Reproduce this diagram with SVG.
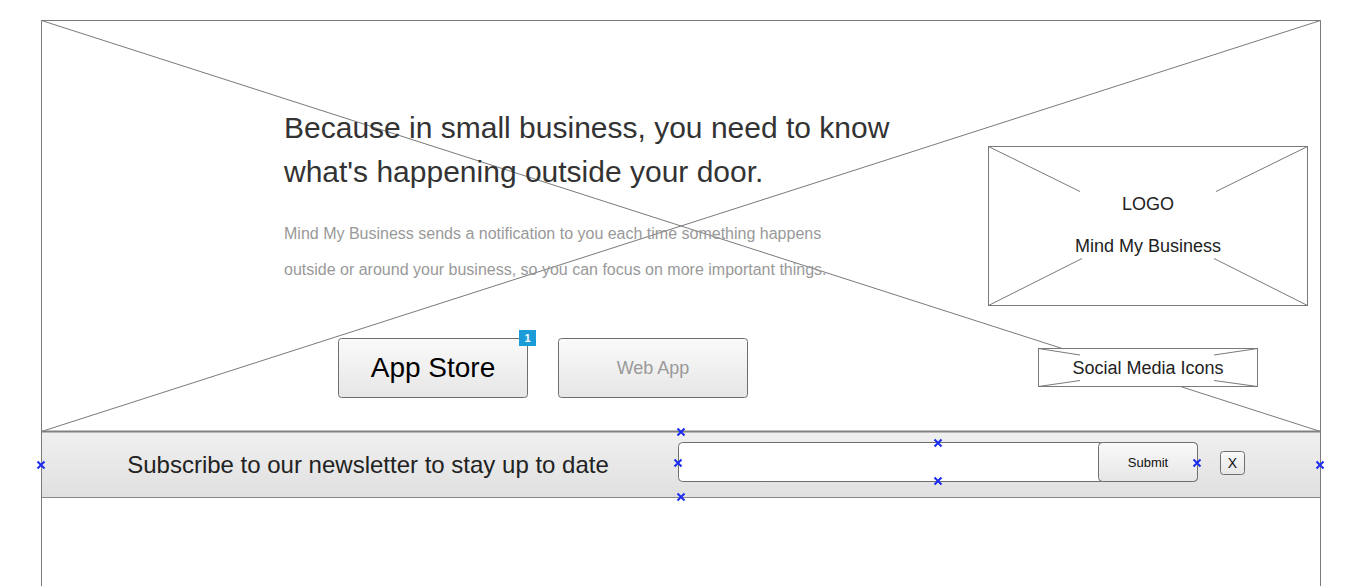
<svg xmlns="http://www.w3.org/2000/svg" width="1360" height="586" viewBox="0 0 1360 586">
<style>
.ln{stroke:#7a7a7a;stroke-width:1;fill:none}
.box{stroke:#7a7a7a;stroke-width:1;fill:#fff}
.btn{stroke:#6e6e6e;stroke-width:1;fill:url(#bg)}
.t{font-family:"Liberation Sans",Arial,sans-serif}
.mk{stroke:#1a2cf0;stroke-width:2;fill:none}
</style>
<defs>
<linearGradient id="bg" x1="0" y1="0" x2="0" y2="1">
<stop offset="0" stop-color="#fafafa"/>
<stop offset="1" stop-color="#e6e6e6"/>
</linearGradient>
<linearGradient id="bar" x1="0" y1="0" x2="0" y2="1">
<stop offset="0" stop-color="#f0f0f0"/>
<stop offset="1" stop-color="#e0e0e0"/>
</linearGradient>
<path id="x" d="M-3.5,-3.5L3.5,3.5M3.5,-3.5L-3.5,3.5"/>
</defs>
<rect width="1360" height="586" fill="#fff"/>
<g id="frame">
<path class="ln" d="M41.5,586V20.5H1320.5V586"/>
<path class="ln" d="M41.5,20.5L1320.5,431.5M1320.5,20.5L41.5,431.5"/>
</g>
<g id="headline">
<text class="t" x="284" y="138" font-size="30" fill="#333">Because in small business, you need to know</text>
<text class="t" x="284" y="182" font-size="30" fill="#333">what's happening outside your door.</text>
</g>
<g id="description">
<text class="t" x="284" y="239" font-size="16" fill="#999">Mind My Business sends a notification to you each time something happens</text>
<text class="t" x="284" y="275" font-size="16" fill="#999">outside or around your business, so you can focus on more important things.</text>
</g>
<g id="logo">
<rect class="box" x="988.5" y="146.5" width="319" height="159"/>
<path class="ln" d="M988.5,146.5L1080,191.5M1307.5,146.5L1216,191.5M988.5,305.5L1082,258.5M1307.5,305.5L1214,258.5"/>
<text class="t" x="1148" y="210" font-size="18" fill="#222" text-anchor="middle">LOGO</text>
<text class="t" x="1148" y="252" font-size="18" fill="#222" text-anchor="middle">Mind My Business</text>
</g>
<g id="social">
<rect class="box" x="1038.5" y="348.5" width="219" height="38"/>
<path class="ln" d="M1038.5,348.5L1080,355M1257.5,348.5L1214,355M1038.5,386.5L1080,380.5M1257.5,386.5L1214,380.5"/>
<text class="t" x="1148" y="374" font-size="18" fill="#222" text-anchor="middle">Social Media Icons</text>
</g>
<g id="appstore">
<rect class="btn" x="338.5" y="338.5" width="189" height="59" rx="3"/>
<text class="t" x="433" y="377" font-size="28" fill="#000" text-anchor="middle">App Store</text>
<rect x="519" y="330" width="17" height="16" fill="#1b9bd8"/>
<text class="t" x="527.5" y="342" font-size="11" font-weight="bold" fill="#fff" text-anchor="middle">1</text>
</g>
<g id="webapp">
<rect class="btn" x="558.5" y="338.5" width="189" height="59" rx="3"/>
<text class="t" x="653" y="374" font-size="18" fill="#999" text-anchor="middle">Web App</text>
</g>
<g id="newsletter">
<rect x="41.5" y="431.5" width="1279" height="66" fill="url(#bar)"/>
<path d="M41,431.5H1321" stroke="#808080" stroke-width="2"/>
<path d="M41,497.5H1321" stroke="#8a8a8a" stroke-width="1"/>
<path class="ln" d="M41.5,431V586M1320.5,431V586"/>
<text class="t" x="368" y="472.5" font-size="24" fill="#222" text-anchor="middle">Subscribe to our newsletter to stay up to date</text>
</g>
<g id="input">
<rect x="678.5" y="442.5" width="519" height="39" rx="4" fill="#fff" stroke="#6e6e6e"/>
</g>
<g id="submit">
<rect class="btn" x="1098.5" y="442.5" width="99" height="39" rx="4"/>
<text class="t" x="1148" y="467" font-size="13" fill="#111" text-anchor="middle">Submit</text>
</g>
<g id="close">
<rect class="btn" x="1220.5" y="451.5" width="24" height="23" rx="3"/>
<text class="t" x="1232.5" y="468" font-size="14" fill="#111" text-anchor="middle">X</text>
</g>
<g id="markers" class="mk">
<use href="#x" x="41" y="465"/>
<use href="#x" x="681" y="432"/>
<use href="#x" x="938" y="443"/>
<use href="#x" x="678" y="463"/>
<use href="#x" x="938" y="481"/>
<use href="#x" x="681" y="497"/>
<use href="#x" x="1197" y="463"/>
<use href="#x" x="1320" y="465"/>
</g>
</svg>
